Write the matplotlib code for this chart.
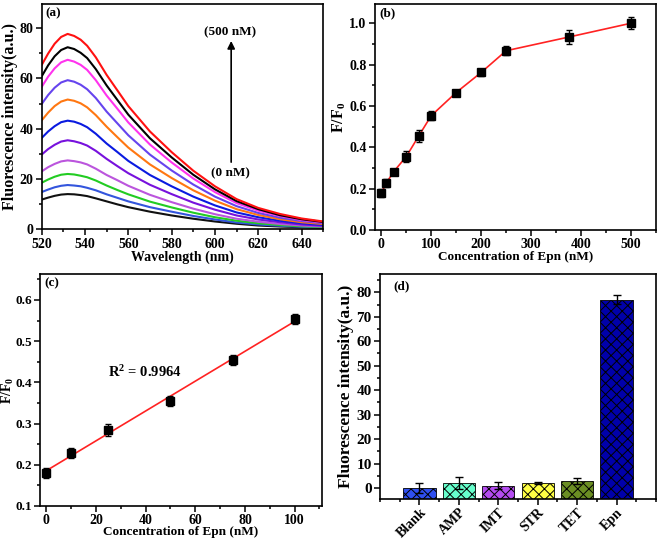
import numpy as np
import matplotlib
matplotlib.use('Agg')
import matplotlib.pyplot as plt
from matplotlib.ticker import MultipleLocator

plt.rcParams['font.family'] = 'Liberation Serif'
plt.rcParams['font.weight'] = 'bold'
plt.rcParams['axes.labelweight'] = 'bold'
plt.rcParams['axes.linewidth'] = 1.2
plt.rcParams['hatch.linewidth'] = 0.7
plt.rcParams['mathtext.fontset'] = 'custom'
plt.rcParams['mathtext.rm'] = 'Liberation Serif:bold'
plt.rcParams['mathtext.bf'] = 'Liberation Serif:bold'
plt.rcParams['mathtext.it'] = 'Liberation Serif:italic:bold'

# (a) emission spectra, 0 nM -> 500 nM
wavelength = [520, 523, 526, 529, 532, 535, 538, 541, 545, 550, 555, 560,
              570, 580, 590, 600, 610, 620, 630, 640, 650]
spectra = [
    [11.8, 12.6, 13.3, 13.8, 14.0, 13.9, 13.6, 13.2, 12.3, 11.1, 9.9, 8.8, 7.0, 5.5, 4.2, 3.1, 2.2, 1.5, 1.1, 0.8, 0.6],
    [14.8, 15.8, 16.7, 17.3, 17.6, 17.4, 17.1, 16.5, 15.5, 13.9, 12.5, 11.1, 8.8, 7.0, 5.3, 3.9, 2.7, 1.9, 1.4, 1.0, 0.7],
    [18.5, 19.8, 20.9, 21.7, 22.0, 21.8, 21.3, 20.7, 19.4, 17.4, 15.6, 13.9, 11.0, 8.7, 6.6, 4.8, 3.4, 2.4, 1.7, 1.2, 0.9],
    [23.0, 24.7, 26.0, 27.0, 27.4, 27.1, 26.6, 25.8, 24.1, 21.6, 19.5, 17.3, 13.7, 10.8, 8.2, 6.0, 4.2, 3.0, 2.1, 1.5, 1.1],
    [29.7, 31.9, 33.6, 34.9, 35.4, 35.0, 34.3, 33.3, 31.2, 28.0, 25.1, 22.3, 17.7, 14.0, 10.6, 7.8, 5.5, 3.9, 2.8, 1.9, 1.4],
    [36.3, 38.9, 41.0, 42.6, 43.2, 42.8, 41.9, 40.6, 38.0, 34.1, 30.7, 27.2, 21.6, 17.1, 13.0, 9.5, 6.7, 4.8, 3.4, 2.4, 1.7],
    [43.3, 46.4, 49.0, 50.8, 51.6, 51.1, 50.1, 48.5, 45.4, 40.8, 36.6, 32.5, 25.8, 20.4, 15.5, 11.4, 8.0, 5.7, 4.0, 2.8, 2.1],
    [49.8, 53.4, 56.3, 58.4, 59.3, 58.7, 57.5, 55.7, 52.2, 46.8, 42.1, 37.4, 29.7, 23.4, 17.8, 13.0, 9.2, 6.5, 4.6, 3.3, 2.4],
    [56.6, 60.7, 64.0, 66.4, 67.4, 66.7, 65.4, 63.4, 59.3, 53.2, 47.9, 42.5, 33.7, 26.6, 20.2, 14.8, 10.4, 7.4, 5.3, 3.7, 2.7],
    [60.8, 65.2, 68.8, 71.3, 72.4, 71.7, 70.2, 68.1, 63.7, 57.2, 51.4, 45.6, 36.2, 28.6, 21.7, 15.9, 11.2, 8.0, 5.6, 4.0, 2.9],
    [65.3, 69.9, 73.8, 76.5, 77.7, 76.9, 75.4, 73.0, 68.4, 61.4, 55.2, 49.0, 38.9, 30.7, 23.3, 17.1, 12.0, 8.5, 6.1, 4.3, 3.1],
]
spectra_colors = ['#111111', '#3355dd', '#22cc22', '#bb55dd', '#7711dd', '#0a1ae0',
                  '#ff7711', '#6644ee', '#ff33ee', '#000000', '#ff1111']

# (b) response curve
conc_b = [0, 10, 25, 50, 75, 100, 150, 200, 250, 375, 500]
ratio_b = [0.180, 0.227, 0.283, 0.355, 0.455, 0.553, 0.665, 0.762, 0.867, 0.933, 1.0]
err_b = [0.02, 0.02, 0.012, 0.025, 0.028, 0.022, 0.012, 0.018, 0.022, 0.032, 0.028]

# (c) linear range
conc_c = [0, 10, 25, 50, 75, 100]
ratio_c = [0.181, 0.228, 0.284, 0.354, 0.454, 0.554]
err_c = [0.012, 0.012, 0.014, 0.012, 0.012, 0.012]

# (d) selectivity
analytes = ['Blank', 'AMP', 'IMT', 'STR', 'TET', 'Epn']
intensity_d = [0.0, 2.0, 1.0, 2.0, 3.0, 77.0]
err_d = [2.0, 2.5, 1.5, 0.4, 1.2, 1.8]
bar_colors = ['#2f4ff0', '#66ffcc', '#b44cf0', '#ffff44', '#6b8e23', '#0000aa']
ylim_d = (-4.5, 87.5)

fig = plt.figure(figsize=(6.61, 5.4), dpi=100)

ax_a = fig.add_axes([0.063, 0.5754, 0.426, 0.4172])
ax_b = fig.add_axes([0.567, 0.574, 0.4254, 0.4186])
ax_c = fig.add_axes([0.0605, 0.063, 0.4266, 0.4296])
ax_d = fig.add_axes([0.5749, 0.0759, 0.4175, 0.4167])


def style_ax(ax, size=10):
    ax.tick_params(which='both', direction='out', labelsize=size, width=1.1, pad=2)
    ax.tick_params(which='major', length=4)
    ax.tick_params(which='minor', length=2.5)
    for lab in ax.get_xticklabels() + ax.get_yticklabels():
        lab.set_fontweight('bold')


# panel a
for ys, c in zip(spectra, spectra_colors):
    ax_a.plot(wavelength, ys, color=c, lw=1.5)
ax_a.set_xlim(520, 650)
ax_a.set_ylim(0, 89.6)
ax_a.xaxis.set_major_locator(MultipleLocator(20))
ax_a.xaxis.set_minor_locator(MultipleLocator(10))
ax_a.yaxis.set_major_locator(MultipleLocator(20))
ax_a.yaxis.set_minor_locator(MultipleLocator(10))
ax_a.set_xlabel('Wavelength (nm)', fontsize=10, labelpad=0)
ax_a.set_ylabel('Fluorescence intensity(a.u.)', fontsize=11.5, labelpad=1)
ax_a.text(0.015, 0.985, '(a)', transform=ax_a.transAxes, ha='left', va='top', fontsize=9.5, fontweight='bold')
ax_a.annotate('', xy=(607.5, 76), xytext=(607.5, 25.6),
              arrowprops=dict(arrowstyle='-|>', color='black', lw=1.2, mutation_scale=11))
ax_a.text(607, 78.5, '(500 nM)', ha='center', va='center', fontsize=9.5, fontweight='bold')
ax_a.text(607, 22.4, '(0 nM)', ha='center', va='center', fontsize=9.5, fontweight='bold')
style_ax(ax_a)

# panel b
ax_b.plot(conc_b, ratio_b, color='#ff2222', lw=1.2, zorder=2)
ax_b.errorbar(conc_b, ratio_b, yerr=err_b, fmt='s', color='black', ms=5.5,
              capsize=2.5, elinewidth=1, capthick=1, zorder=3)
ax_b.set_xlim(-13, 550)
ax_b.set_ylim(0, 1.093)
ax_b.xaxis.set_major_locator(MultipleLocator(100))
ax_b.xaxis.set_minor_locator(MultipleLocator(50))
ax_b.yaxis.set_major_locator(MultipleLocator(0.2))
ax_b.yaxis.set_minor_locator(MultipleLocator(0.1))
ax_b.set_xlabel('Concentration of Epn (nM)', fontsize=9.5, labelpad=0)
ax_b.set_ylabel('F/F$_0$', fontsize=11.5, labelpad=1)
ax_b.text(0.015, 0.985, '(b)', transform=ax_b.transAxes, ha='left', va='top', fontsize=9.5, fontweight='bold')
style_ax(ax_b)

# panel c
slope, intercept = np.polyfit(conc_c, ratio_c, 1)
fit_x = np.array([conc_c[0], conc_c[-1]])
ax_c.plot(fit_x, slope * fit_x + intercept, color='#ff2222', lw=1.2, zorder=2)
ax_c.errorbar(conc_c, ratio_c, yerr=err_c, fmt='s', color='black', ms=5.5,
              capsize=2.5, elinewidth=1, capthick=1, zorder=3)
ax_c.set_xlim(-2.5, 111)
ax_c.set_ylim(0.1, 0.663)
ax_c.xaxis.set_major_locator(MultipleLocator(20))
ax_c.xaxis.set_minor_locator(MultipleLocator(10))
ax_c.yaxis.set_major_locator(MultipleLocator(0.1))
ax_c.yaxis.set_minor_locator(MultipleLocator(0.05))
ax_c.set_xlabel('Concentration of Epn (nM)', fontsize=9.5, labelpad=-1)
ax_c.set_ylabel('F/F$_0$', fontsize=10)
ax_c.yaxis.set_label_coords(-0.086, 0.5)
ax_c.text(39.6, 0.426, 'R$^2$ = 0.9964', ha='center', va='center', fontsize=10.5, fontweight='bold')
ax_c.text(0.015, 0.985, '(c)', transform=ax_c.transAxes, ha='left', va='top', fontsize=9.5, fontweight='bold')
style_ax(ax_c, size=10)
ax_c.tick_params(axis='y', labelsize=9.5, pad=1.5)

# panel d
pos = np.arange(1, len(analytes) + 1)
ax_d.bar(pos, np.array(intensity_d) - ylim_d[0], bottom=ylim_d[0], width=0.82,
         color=bar_colors, edgecolor='black', hatch='xxx', linewidth=0.6, zorder=2)
ax_d.errorbar(pos, intensity_d, yerr=err_d, fmt='none', ecolor='black',
              capsize=3, elinewidth=1, capthick=1, zorder=3)
ax_d.set_xlim(0, 7)
ax_d.set_ylim(*ylim_d)
ax_d.set_xticks(pos)
ax_d.set_xticklabels(analytes, rotation=45, ha='right', rotation_mode='anchor')
ax_d.xaxis.set_minor_locator(MultipleLocator(0.5))
ax_d.yaxis.set_major_locator(MultipleLocator(10))
ax_d.yaxis.set_minor_locator(MultipleLocator(5))
ax_d.set_ylabel('Fluorescence intensity(a.u.)', fontsize=12.5, labelpad=2)
ax_d.text(0.05, 0.97, '(d)', transform=ax_d.transAxes, ha='left', va='top', fontsize=9.5, fontweight='bold')
style_ax(ax_d, size=11)
ax_d.tick_params(axis='x', labelsize=10, pad=1)

fig.savefig('out.png', dpi=100)
